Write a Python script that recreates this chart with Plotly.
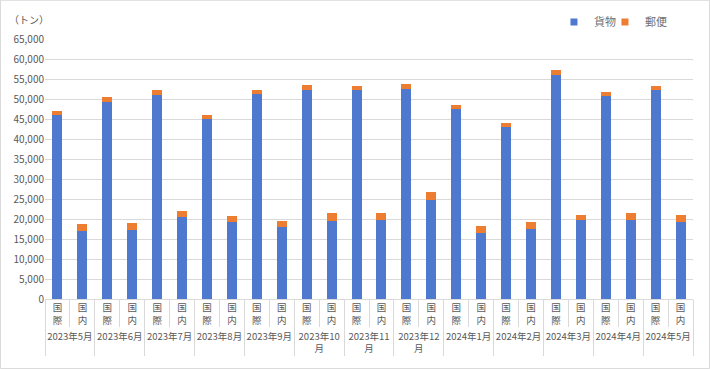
import plotly.graph_objects as go

months = ["2023年5月", "2023年6月", "2023年7月", "2023年8月", "2023年9月",
          "2023年10<br>月", "2023年11<br>月", "2023年12<br>月", "2024年1月",
          "2024年2月", "2024年3月", "2024年4月", "2024年5月"]
kinds = ["国<br>際", "国<br>内"]

# values in tonnes, order: for each month (国際, 国内)
cargo = [46000, 17000, 49300, 17300, 51100, 20500, 45000, 19200, 51250, 17900,
         52300, 19600, 52200, 19700, 52500, 24800, 47500, 16600, 43100, 17600,
         56100, 19800, 50750, 19800, 52250, 19300]
mail = [1100, 1700, 1100, 1800, 1100, 1600, 1000, 1500, 1000, 1700,
        1100, 1800, 1100, 1700, 1250, 2000, 1100, 1600, 900, 1650,
        1150, 1200, 1100, 1750, 1100, 1750]

series_names = ["貨物", "郵便"]
series_colors = ["#4E79CF", "#ED7D31"]

outer = [m for m in months for _ in kinds]
inner = [k for _ in months for k in kinds]

font_family = "Noto Sans CJK JP, Noto Sans, sans-serif"
gray_text = "#595959"
grid = "#d9d9d9"

fig = go.Figure()
for name, vals, col in zip(series_names, [cargo, mail], series_colors):
    fig.add_trace(go.Bar(x=[outer, inner], y=vals, name=name, legendgroup=name,
                         showlegend=False, marker=dict(color=col, line=dict(width=0))))
# small square legend markers (Excel style), on hidden helper axes
for name, col in zip(series_names, series_colors):
    fig.add_trace(go.Scatter(x=[0], y=[None], name=name, xaxis="x2", yaxis="y2",
                             legendgroup=name, mode="markers", hoverinfo="skip",
                             marker=dict(symbol="square", size=7, color=col)))

fig.update_layout(
    barmode="stack",
    bargap=0.6,
    width=710, height=369,
    margin=dict(l=45, r=17, t=39, b=70, autoexpand=False),
    paper_bgcolor="white", plot_bgcolor="white",
    font=dict(family=font_family, size=10, color=gray_text),
    showlegend=True,
    legend=dict(orientation="h", x=0.966, xanchor="right", y=1.065, yanchor="middle",
                font=dict(size=11, color="#707070"), itemwidth=30, indentation=-15,
                entrywidth=21,
                bgcolor="rgba(0,0,0,0)", traceorder="normal"),
    yaxis=dict(range=[0, 65000], dtick=5000, tickformat=",d", showgrid=True,
               gridcolor=grid, gridwidth=1, zeroline=False, showline=False,
               ticks="", automargin=False, tickfont=dict(size=10, color=gray_text)),
    xaxis=dict(type="multicategory", showline=True, linecolor=grid, linewidth=1,
               ticks="outside", ticklen=27, tickcolor=grid, tickson="boundaries",
               showdividers=True, dividercolor=grid, dividerwidth=1, automargin=False,
               tickfont=dict(size=9.5, color=gray_text)),
    xaxis2=dict(visible=False, overlaying="x", range=[0, 1]),
    yaxis2=dict(visible=False, overlaying="y", range=[0, 1]),
    annotations=[dict(text="（トン）", xref="paper", yref="paper", x=-0.058, y=1.075,
                      xanchor="left", yanchor="middle", showarrow=False,
                      font=dict(size=10, color=gray_text))],
    shapes=[dict(type="rect", xref="paper", yref="paper",
                 x0=-0.0687, x1=1.0255, y0=-0.2676, y1=1.149,
                 line=dict(color=grid, width=1), fillcolor="rgba(0,0,0,0)", layer="below")],
)

fig.write_html("out.html", config={"displayModeBar": False},
               post_script="document.body.style.margin='0';")
